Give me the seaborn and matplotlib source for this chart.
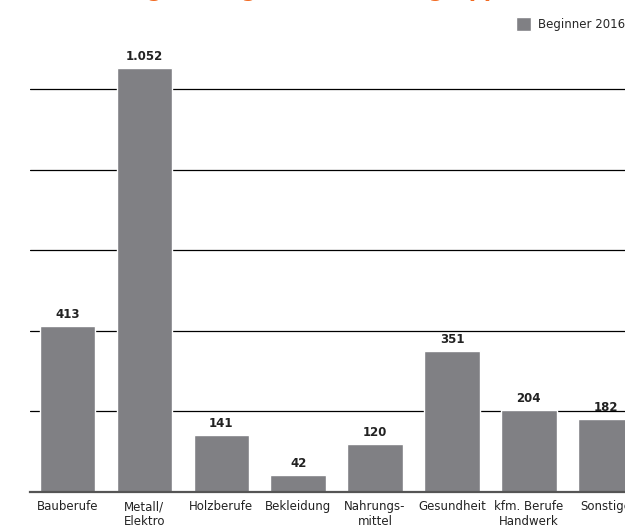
import matplotlib
matplotlib.use("Agg")
import matplotlib.pyplot as plt
import seaborn as sns
import pandas as pd

# Beginner 2016 nach Berufsgruppen
categories = ["Bauberufe", "Metall/\nElektro", "Holzberufe", "Bekleidung",
              "Nahrungs-\nmittel", "Gesundheit", "kfm. Berufe\nHandwerk", "Sonstige"]
values = [413, 1052, 141, 42, 120, 351, 204, 182]
value_labels = ["413", "1.052", "141", "42", "120", "351", "204", "182"]
series_name = "Beginner 2016"
title = "Ausbildungsanfänger nach Berufsgruppen"

sns.set_theme(style="white")
plt.rcParams['font.family'] = ['Liberation Sans Narrow', 'DejaVu Sans']

df = pd.DataFrame({"Beruf": categories, "Anzahl": values})

fig = plt.figure(figsize=(6.25, 5.32), dpi=100)
ax = fig.add_axes([0.048, 0.0752, 0.952, 0.833])

# gridlines behind the bars
for y in [200, 400, 600, 800, 1000]:
    ax.axhline(y, color="black", linewidth=0.9, zorder=0)

sns.barplot(data=df, x="Beruf", y="Anzahl", color="#808084", saturation=1,
            width=0.72, ax=ax, label=series_name, zorder=2)

# value labels above bars
for i, (v, lab) in enumerate(zip(values, value_labels)):
    ax.text(i, v + 12, lab, ha="center", va="bottom", fontsize=8.5,
            fontweight="bold", color="#222222")

ax.set_ylim(0, 1100)
ax.set_xlim(-0.487, 7.25)
ax.set_xlabel("")
ax.set_ylabel("")
ax.set_yticks([])
ax.tick_params(axis="x", length=0, pad=6, labelsize=8.5, colors="#222222")
for s in ["top", "right", "left"]:
    ax.spines[s].set_visible(False)
ax.spines["bottom"].set_color("#555555")
ax.spines["bottom"].set_linewidth(1.6)

ax.legend(loc="upper right", bbox_to_anchor=(1.018, 0.988),
          bbox_transform=fig.transFigure, frameon=False, fontsize=8.5,
          handlelength=1.3, handleheight=1.4, handletextpad=0.6)

# orange headline, mostly cut off at the top edge
fig.text(0.048, 1.0055, title, color="#f26a21", fontsize=15,
         fontweight="bold", ha="left", va="baseline")

fig.savefig("out.png", dpi=100)
